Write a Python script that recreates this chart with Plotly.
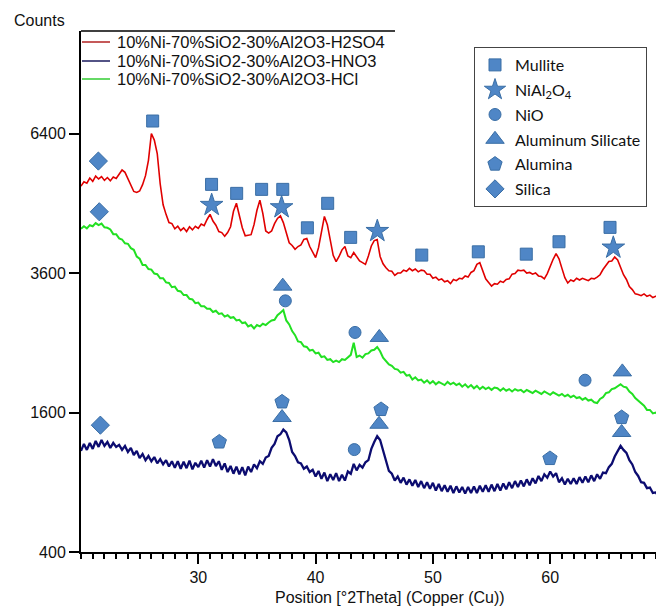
import numpy as np
import plotly.graph_objects as go

# ---- data (counts vs 2theta, 0.25 deg grid from 20 to 70) ----
two_theta = np.arange(20, 70.001, 0.25)

h2so4 = [
    5250, 5340, 5310, 5420, 5350, 5460, 5400, 5450,
    5370, 5430, 5360, 5440, 5410, 5510, 5590, 5540,
    5400, 5290, 5140, 5120, 5150, 5280, 5470, 5800,
    6400, 6250, 5950, 5300, 4870, 4680, 4520, 4500,
    4400, 4450, 4370, 4420, 4350, 4440, 4380, 4450,
    4410, 4490, 4460, 4580, 4680, 4550, 4470, 4350,
    4330, 4260, 4330, 4440, 4740, 4900, 4650, 4420,
    4270, 4280, 4290, 4480, 4760, 4960, 4700, 4360,
    4320, 4360, 4500, 4600, 4650, 4520, 4350, 4140,
    4090, 4020, 4070, 4100, 4200, 4220, 4070, 3960,
    3870, 4050, 4340, 4640, 4480, 4150, 3910, 3800,
    3890, 4010, 4070, 3900, 3870, 3960, 3890, 3810,
    3780, 3750, 3900, 4080, 4180, 4200, 3890, 3760,
    3690, 3640, 3630, 3560, 3600, 3600, 3650, 3630,
    3680, 3640, 3670, 3620, 3650, 3640, 3580, 3580,
    3510, 3530, 3480, 3500, 3450, 3470, 3420, 3490,
    3470, 3510, 3500, 3550, 3530, 3610, 3640, 3750,
    3780, 3620, 3500, 3440, 3380, 3420, 3410, 3460,
    3440, 3490, 3500, 3580, 3590, 3650, 3640, 3650,
    3600, 3610, 3580, 3600, 3550, 3540, 3500, 3590,
    3720, 3840, 3940, 3850, 3680, 3520, 3430, 3480,
    3460, 3510, 3480, 3510, 3490, 3470, 3510, 3500,
    3530, 3570, 3660, 3730, 3800, 3810, 3880, 3830,
    3690, 3570, 3490, 3370, 3320, 3250, 3240, 3220,
    3250, 3210, 3230, 3190, 3210, 3220, 3290, 3300,
    3310,
]

hno3 = [
    1190, 1260, 1200, 1270, 1210, 1290, 1230, 1300,
    1240, 1280, 1220, 1270, 1230, 1250, 1200, 1240,
    1180, 1220, 1150, 1190, 1120, 1160, 1100, 1140,
    1090, 1130, 1070, 1110, 1060, 1100, 1040, 1090,
    1030, 1090, 1020, 1085, 1025, 1095, 1015, 1075,
    1035, 1095, 1030, 1100, 1040, 1110, 1045, 1090,
    1010, 1070, 990, 1045, 975, 1040, 970, 1035,
    960, 1040, 990, 1060, 1025, 1090, 1065, 1125,
    1140, 1220, 1260, 1340, 1360, 1410, 1380, 1300,
    1180, 1140, 1080, 1070, 1020, 1040, 990, 1010,
    950, 1000, 930, 985, 910, 970, 920, 980,
    910, 965, 915, 995, 975, 1065, 1005, 1055,
    1030, 1080, 1100, 1210, 1280, 1340, 1300, 1190,
    1100, 1000, 975, 915, 950, 895, 940, 880,
    925, 870, 920, 860, 910, 850, 900, 845,
    895, 830, 885, 825, 875, 820, 870, 810,
    865, 815, 860, 805, 860, 810, 865, 810,
    870, 820, 875, 820, 880, 825, 885, 830,
    890, 840, 900, 850, 910, 860, 915, 865,
    925, 875, 935, 890, 955, 910, 970, 940,
    995, 950, 980, 900, 935, 880, 930, 885,
    935, 885, 945, 895, 950, 900, 960, 910,
    970, 930, 985, 980, 1035, 1065, 1135, 1190,
    1240, 1200, 1170, 1100, 1060, 990, 955, 900,
    895, 850, 855, 810, 815, 780, 780, 745,
    745,
]

hcl = [
    4400, 4450, 4410, 4470, 4450, 4510, 4470, 4500,
    4430, 4420, 4390, 4300, 4300, 4220, 4200, 4130,
    4120, 4040, 4010, 3890, 3850, 3740, 3740, 3670,
    3660, 3590, 3580, 3510, 3510, 3440, 3430, 3360,
    3370, 3300, 3290, 3230, 3230, 3170, 3160, 3100,
    3110, 3050, 3050, 3010, 3010, 2960, 2980, 2930,
    2940, 2890, 2910, 2870, 2880, 2830, 2840, 2790,
    2800, 2740, 2760, 2710, 2760, 2740, 2780, 2760,
    2800, 2830, 2840, 2910, 2950, 2990, 2830, 2770,
    2670, 2610, 2520, 2510, 2450, 2440, 2390, 2400,
    2350, 2360, 2300, 2310, 2260, 2270, 2230, 2250,
    2230, 2270, 2260, 2300, 2330, 2500, 2300, 2320,
    2290, 2340, 2350, 2390, 2400, 2440, 2380, 2290,
    2250, 2200, 2180, 2140, 2130, 2090, 2100, 2050,
    2060, 2000, 2030, 1990, 2000, 1960, 1990, 1950,
    1980, 1940, 1970, 1950, 1930, 1970, 1940, 1960,
    1930, 1950, 1910, 1940, 1900, 1930, 1890, 1920,
    1880, 1910, 1880, 1900, 1870, 1900, 1890, 1860,
    1890, 1860, 1880, 1850, 1880, 1860, 1870, 1840,
    1870, 1850, 1830, 1860, 1840, 1820, 1850, 1830,
    1810, 1840, 1820, 1800, 1820, 1790, 1810, 1780,
    1800, 1770, 1780, 1750, 1770, 1740, 1750, 1720,
    1710, 1760, 1780, 1830, 1840, 1880, 1890, 1920,
    1940, 1910, 1900, 1850, 1820, 1770, 1740, 1700,
    1680, 1630, 1630, 1590, 1600, 1560, 1560, 1530,
    1540,
]

series_names = [
    "10%Ni-70%SiO2-30%Al2O3-H2SO4",
    "10%Ni-70%SiO2-30%Al2O3-HNO3",
    "10%Ni-70%SiO2-30%Al2O3-HCl",
]

# ---- phase markers (2theta, counts) ----
mullite_x = [26.11, 31.13, 33.27, 35.4, 37.2, 39.3, 41.03, 42.99, 49.05, 53.87, 57.96, 60.75, 65.1]
mullite_y = [6690, 5287, 5101, 5183, 5183, 4420, 4899, 4239, 3915, 3974, 3932, 4158, 4428]
nial2o4_x = [31.14, 37.1, 45.26, 65.38]
nial2o4_y = [4864, 4818, 4357, 4048]
nio_x = [37.42, 43.36, 62.97, 43.3]
nio_y = [3137, 2650, 1992, 1203]
alsil_x = [37.2, 45.43, 66.15, 37.14, 45.41, 66.09]
alsil_y = [3378, 2577, 2100, 1543, 1468, 1379]
alumina_x = [31.79, 37.14, 45.58, 59.98, 66.09]
alumina_y = [1280, 1724, 1635, 1116, 1543]
silica_x = [21.48, 21.56, 21.65]
silica_y = [5784, 4731, 1458]

y_ticks = [400, 1600, 3600, 6400]

FONT = "Liberation Sans, Arial, sans-serif"
MFILL = "#4f86c6"
MEDGE = "#3a6ea5"

# The page body has an 8px margin: the figure is 648x599 and sits at (8, 8).
BODY = 8
FIG_W, FIG_H = 664 - 2 * BODY, 615 - 2 * BODY
# plot area in page pixels
P_LEFT, P_TOP, P_RIGHT, P_BOTTOM = 81, 31, 656, 552
PW, PH = P_RIGHT - P_LEFT, P_BOTTOM - P_TOP
DEG_PER_PX = 10 / 117.3
X_MAX = 20 + PW * DEG_PER_PX


def px(xp):
    return (xp - P_LEFT) / PW


def py(yp):
    return 1 - (yp - P_TOP) / PH


fig = go.Figure()

line_colors = ["#e00000", "#0c0c70", "#22e022"]
line_widths = [1.6, 2.3, 2.0]
legend_colors = ["#b22222", "#1a1a5e", "#33cc33"]
for name, vals, col, w in zip(series_names, [h2so4, hno3, hcl], line_colors, line_widths):
    fig.add_trace(go.Scatter(
        x=two_theta, y=np.sqrt(np.array(vals, dtype=float)), mode="lines",
        name=name, line=dict(color=col, width=w), showlegend=False,
        hoverinfo="skip",
    ))

phases = [
    ("Mullite", mullite_x, mullite_y, "square", 12),
    ("NiAl<sub>2</sub>O<sub>4</sub>", nial2o4_x, nial2o4_y, "star", 17),
    ("NiO", nio_x, nio_y, "circle", 12),
    ("Aluminum Silicate", alsil_x, alsil_y, "triangle-up", 16),
    ("Alumina", alumina_x, alumina_y, "pentagon", 15),
    ("Silica", silica_x, silica_y, "diamond", 14),
]
for i, (name, xs, ys, sym, sz) in enumerate(phases):
    fig.add_trace(go.Scatter(
        x=xs, y=np.sqrt(np.array(ys, dtype=float)), mode="markers", name=name,
        marker=dict(symbol=sym, size=sz, color=MFILL, line=dict(color=MEDGE, width=1)),
        legendgroup=f"g{i}", hoverinfo="skip",
    ))

# manual series legend (line sample + label)
legend_rows_y = [42, 61, 79]
shapes = [dict(
    type="line", xref="paper", yref="paper", x0=0, x1=px(395), y0=1, y1=1,
    line=dict(color="black", width=1.5),
)]
annotations = [
    dict(text="Counts", xref="paper", yref="paper",
         x=px(12), y=py(20), xanchor="left", yanchor="middle",
         showarrow=False, font=dict(family=FONT, size=16, color="#111")),
    dict(text="Position [°2Theta] (Copper (Cu))", xref="paper", yref="paper",
         x=px(390), y=py(597), xanchor="center", yanchor="middle",
         showarrow=False, font=dict(family=FONT, size=16, color="#111")),
]
for name, col, yy in zip(series_names, legend_colors, legend_rows_y):
    shapes.append(dict(type="line", xref="paper", yref="paper",
                       x0=px(82), x1=px(110), y0=py(yy), y1=py(yy),
                       line=dict(color=col, width=1.5)))
    annotations.append(dict(text=name, xref="paper", yref="paper",
                            x=px(115), y=py(yy), xanchor="left", yanchor="middle",
                            showarrow=False,
                            font=dict(family=FONT, size=16.5, color="#111")))

fig.update_layout(
    width=FIG_W, height=FIG_H,
    margin=dict(l=P_LEFT - BODY, r=FIG_W - (P_RIGHT - BODY), t=P_TOP - BODY,
                b=FIG_H - (P_BOTTOM - BODY), autoexpand=False),
    paper_bgcolor="white", plot_bgcolor="white",
    font=dict(family=FONT, size=16, color="#111"),
    showlegend=True,
    legend=dict(
        x=px(474), y=py(47), xanchor="left", yanchor="top",
        bgcolor="white", bordercolor="#444", borderwidth=1,
        font=dict(family="Lato, sans-serif", size=16, color="#111"),
        traceorder="grouped", tracegroupgap=1,
        itemsizing="trace",
    ),
    xaxis=dict(
        range=[20, X_MAX], showline=True, linecolor="black", linewidth=2,
        ticks="outside", ticklen=10, tickwidth=2, tickcolor="black",
        tickvals=[30, 40, 50, 60], tickfont=dict(size=16),
        showgrid=False, zeroline=False, automargin=False,
        minor=dict(ticks="outside", dtick=1, tick0=0, ticklen=5, tickwidth=1.5,
                   tickcolor="black", showgrid=False),
    ),
    yaxis=dict(
        range=[20, 94.7], showline=True, linecolor="black", linewidth=2,
        ticks="outside", ticklen=10, tickwidth=2, tickcolor="black",
        tickvals=[np.sqrt(v) for v in y_ticks], ticktext=[str(v) for v in y_ticks],
        tickfont=dict(size=16), showgrid=False, zeroline=False, automargin=False,
    ),
    annotations=annotations,
    shapes=shapes,
)

fig.write_html("out.html")
